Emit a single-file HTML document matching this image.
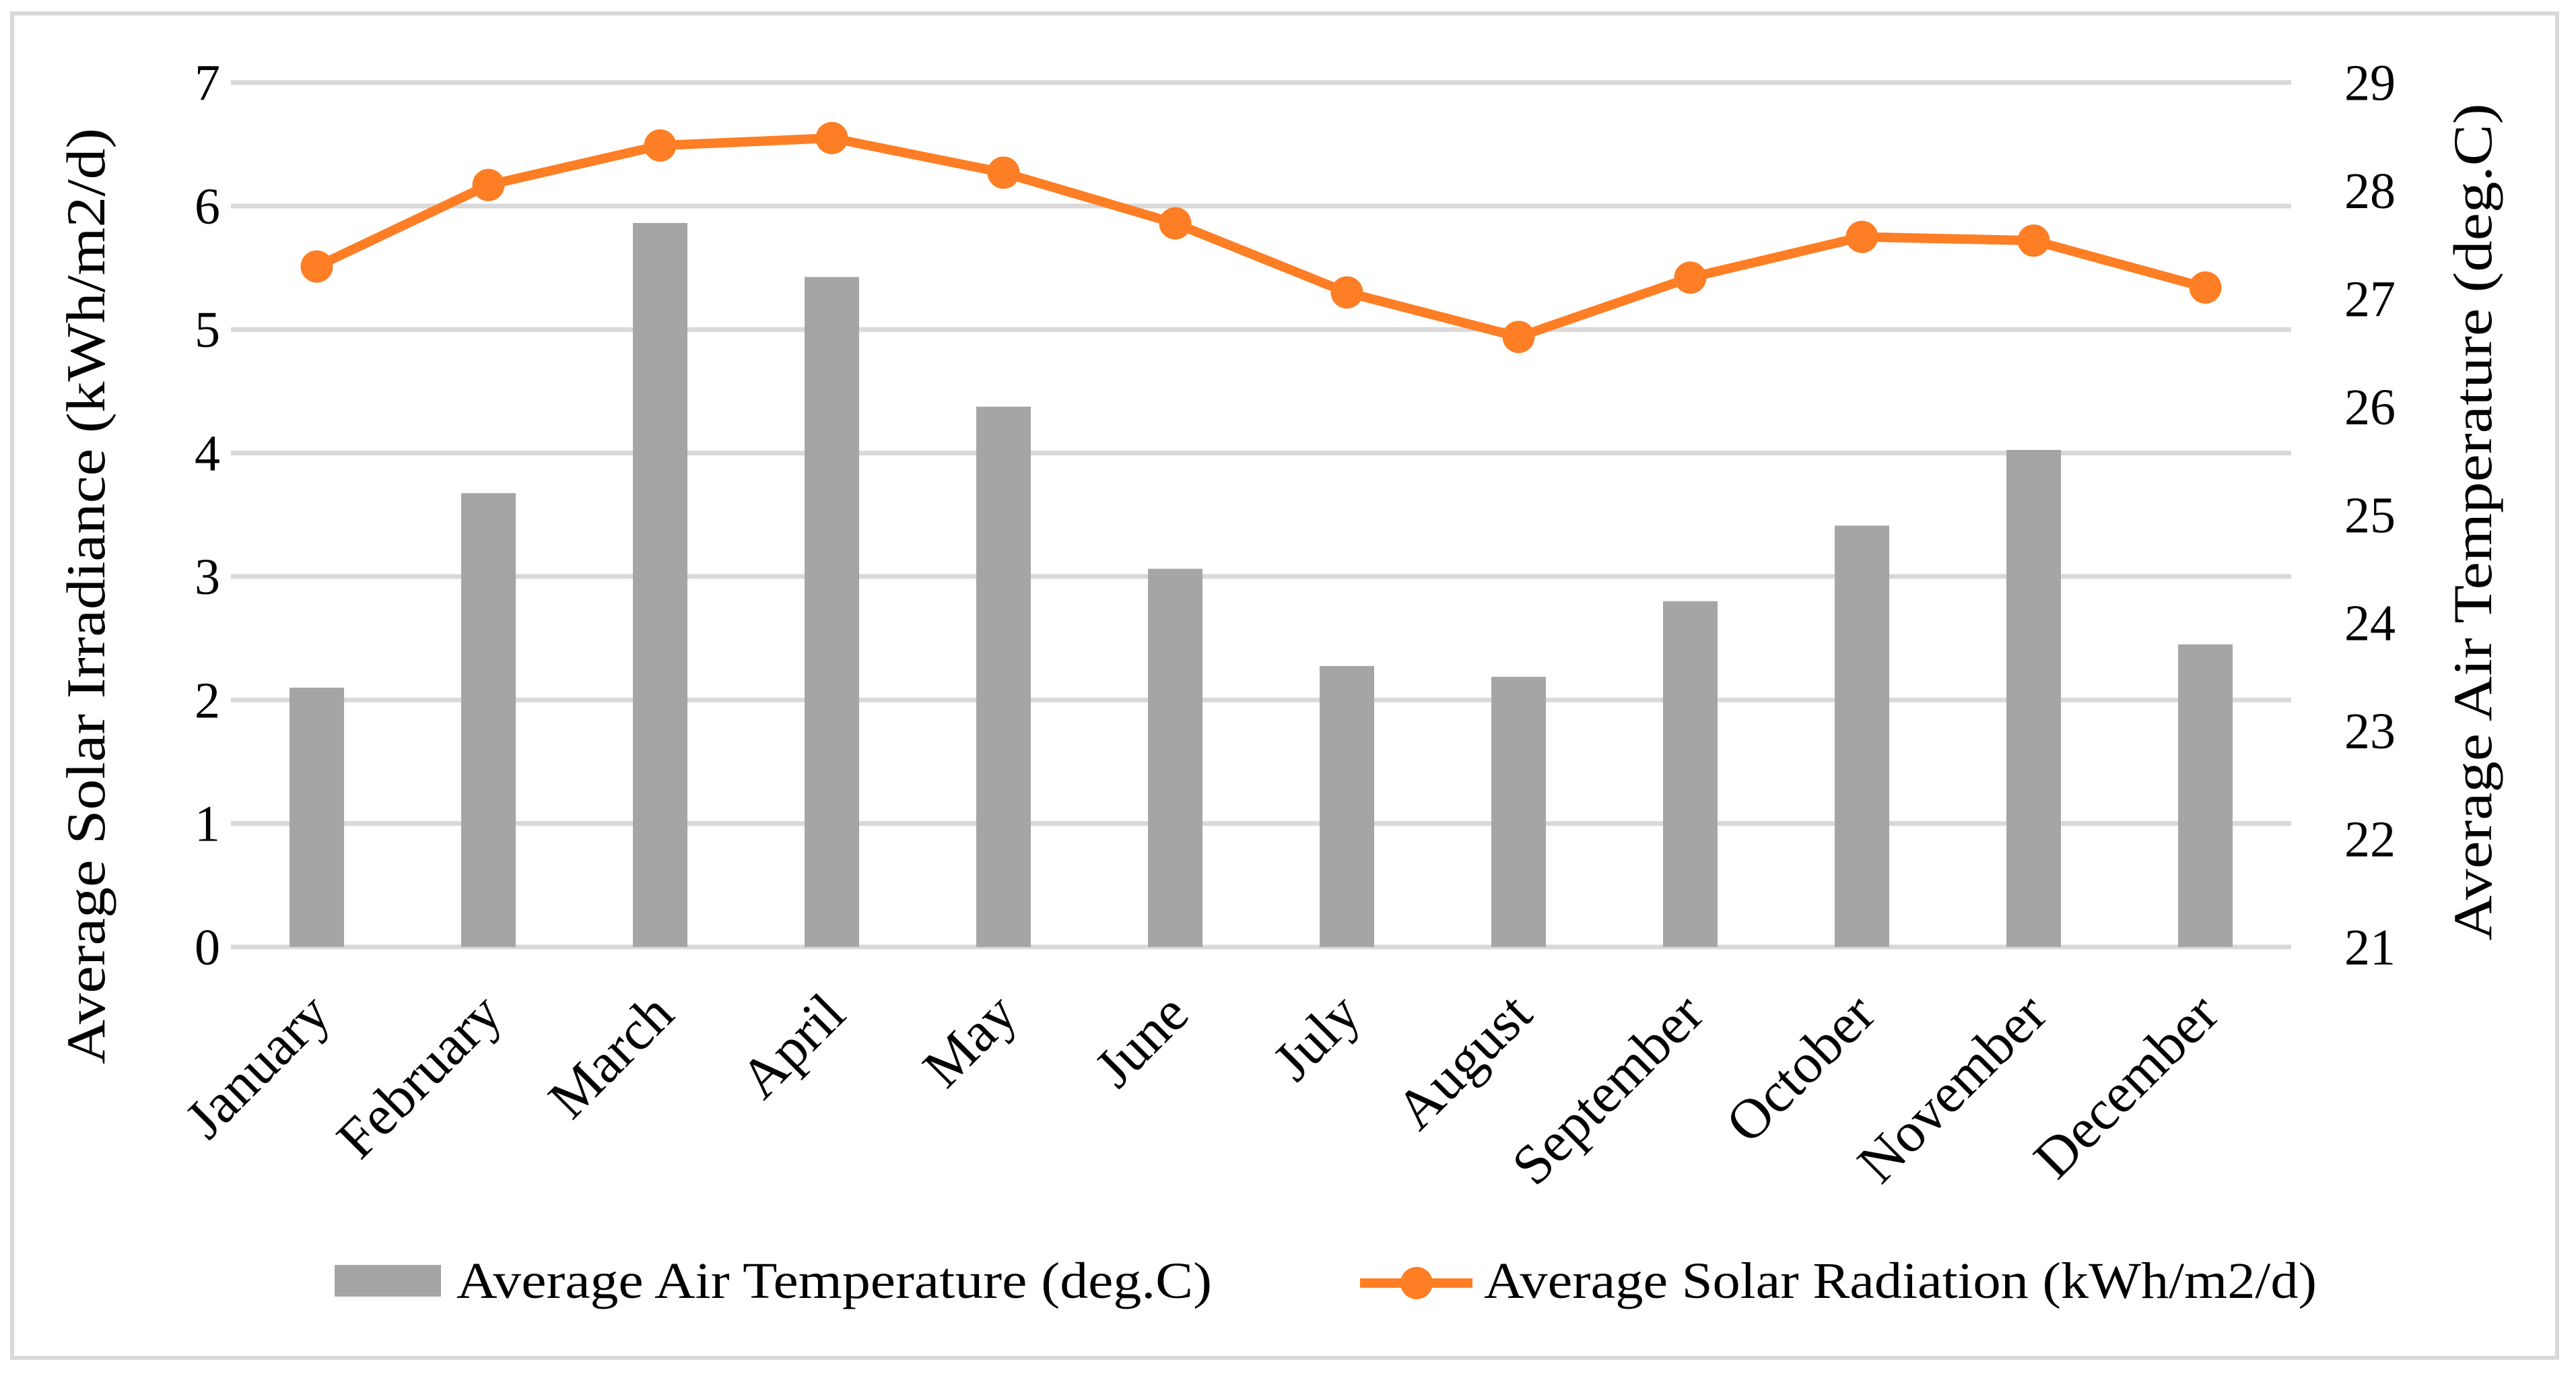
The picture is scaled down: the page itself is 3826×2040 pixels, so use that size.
<!DOCTYPE html>
<html><head><meta charset="utf-8"><style>
html,body{margin:0;padding:0;background:#fff;}
svg{display:block;}
text{font-family:"Liberation Serif",serif;fill:#000;}
</style></head><body>
<svg id="chart" width="3826" height="2040" viewBox="0 0 3826 2040" xmlns="http://www.w3.org/2000/svg">
<rect x="18" y="20" width="3780" height="1996" fill="#fff" stroke="#d9d9d9" stroke-width="6"/>
<g id="grid"></g>
<g id="bars"></g>
<g id="line"></g>
<g id="ticks"></g>
<text transform="translate(155,885) rotate(-90)" text-anchor="middle" font-size="82" textLength="1390" lengthAdjust="spacingAndGlyphs">Average Solar Irradiance (kWh/m2/d)</text>
<text transform="translate(3700,775) rotate(-90)" text-anchor="middle" font-size="82" textLength="1243" lengthAdjust="spacingAndGlyphs">Average Air Temperature (deg.C)</text>
<g>
<rect x="497" y="1878" width="158" height="47" fill="#a5a5a5"/>
<text x="678" y="1927" font-size="76" textLength="1122" lengthAdjust="spacingAndGlyphs">Average Air Temperature (deg.C)</text>
<line x1="2020" y1="1905" x2="2187" y2="1905" stroke="#fd7e24" stroke-width="14"/>
<circle cx="2104" cy="1905" r="24" fill="#fd7e24"/>
<text x="2204" y="1927" font-size="76" textLength="1237" lengthAdjust="spacingAndGlyphs">Average Solar Radiation (kWh/m2/d)</text>
</g>
</svg>
<script>
const months = ["January","February","March","April","May","June","July","August","September","October","November","December"];
const airTemp = [23.4,25.2,27.7,27.2,26.0,24.5,23.6,23.5,24.2,24.9,25.6,23.8];
const solarRad = [5.51,6.17,6.49,6.55,6.27,5.86,5.30,4.94,5.42,5.75,5.72,5.34];
const leftTicks = [0,1,2,3,4,5,6,7];
const rightTicks = [21,22,23,24,25,26,27,28,29];

const NS="http://www.w3.org/2000/svg";
const X0=343, X1=3403, Y0=1406, Y7=122.5;
const cat=(X1-X0)/months.length;
const xc=i=>X0+cat*(i+0.5);
const yL=v=>Y0-(v-0)/(7-0)*(Y0-Y7);
const yR=v=>Y0-(v-21)/(29-21)*(Y0-Y7);
function mk(tag,attrs,parent,txt){const e=document.createElementNS(NS,tag);for(const k in attrs)e.setAttribute(k,attrs[k]);if(txt!==undefined)e.textContent=txt;parent.appendChild(e);return e;}
const grid=document.getElementById('grid'),bars=document.getElementById('bars'),line=document.getElementById('line'),ticks=document.getElementById('ticks');
leftTicks.forEach(t=>{
  const g=mk('line',{x1:X0,x2:X1,y1:yL(t),y2:yL(t),stroke:'#d9d9d9','stroke-width':7},grid);
  
  
  const l=mk('text',{x:308,y:yL(t)+26,'font-size':76,'text-anchor':'middle'},ticks,String(t));
  
  
});
rightTicks.forEach(t=>{
  const l=mk('text',{x:3482,y:yR(t)+26,'font-size':76},ticks,String(t));
  
  
});
airTemp.forEach((v,i)=>{
  const b=mk('rect',{x:xc(i)-40.5,y:yR(v),width:81,height:Y0-yR(v),fill:'#a5a5a5'},bars);
  
  
});
const pts=solarRad.map((v,i)=>xc(i)+','+yL(v)).join(' ');
const pl=mk('polyline',{points:pts,fill:'none',stroke:'#fd7e24','stroke-width':14,'stroke-linejoin':'round'},line);


solarRad.forEach((v,i)=>{
  const c=mk('circle',{cx:xc(i),cy:yL(v),r:24,fill:'#fd7e24'},line);
  
  
});
months.forEach((m,i)=>{
  const t=mk('text',{transform:'translate('+(xc(i)+24)+',1510) rotate(-45)','font-size':84,'text-anchor':'end'},ticks,m);
  
  
});
</script>
</body></html>
